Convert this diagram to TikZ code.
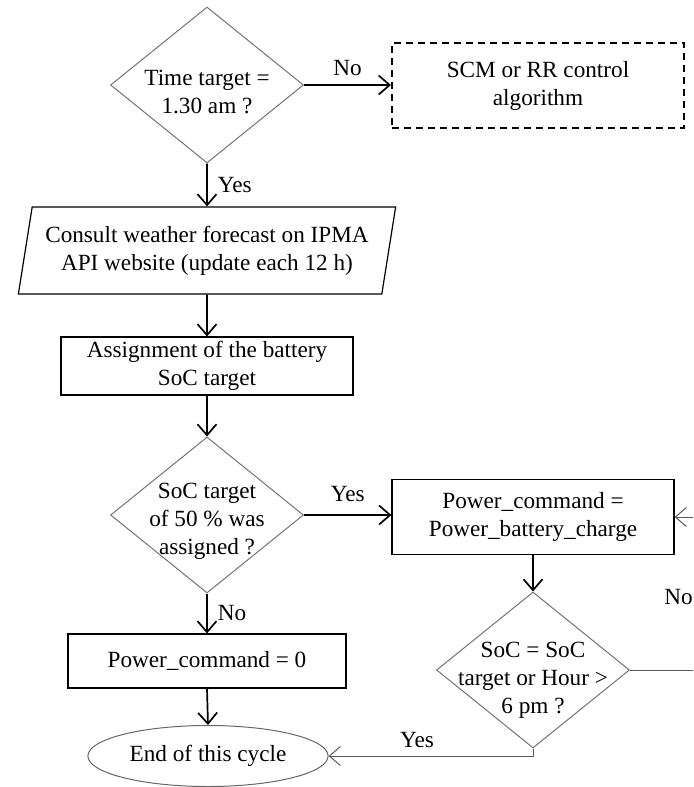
\documentclass[tikz,border=0pt]{standalone}
\usepackage{fontspec}
\setmainfont{Liberation Serif}
\usetikzlibrary{positioning,arrows.meta,shapes.geometric}

\begin{document}
\begin{tikzpicture}[x=0.5pt, y=-0.5pt, font=\fontsize{11.6}{14}\selectfont,
  test/.style={diamond, draw=black!55, line width=0.5pt, minimum width=96.5pt, minimum height=78pt, inner sep=0pt},
  qtext/.style={align=center, inner sep=0pt},
  task/.style={draw, line width=0.6pt, align=center, inner sep=2pt},
  io/.style={trapezium, trapezium left angle=78, trapezium right angle=102, trapezium stretches=true,
    draw, line width=0.6pt, align=center, minimum width=189pt, minimum height=43.5pt},
  ext/.style={draw, dash pattern=on 3.5pt off 2.5pt, line width=1pt, align=center},
  stop/.style={ellipse, draw=black!60, line width=0.5pt, minimum width=106.5pt, minimum height=30.5pt},
  arr/.style={-{Straight Barb[length=5.5pt, width=9.5pt]}, line width=0.85pt},
  thinarr/.style={-{Straight Barb[length=5.5pt, width=9.5pt]}, draw=black!65, line width=0.5pt},
  lbl/.style={inner sep=1pt}]
\useasboundingbox (0,0) rectangle (693,787);
\clip (0,0) rectangle (693,787);
% decisions
\node[test] (q1) at (207,85)  {};
\node[qtext] (q1t) at (207,92) {Time target =\\1.30 am ?};
\node[test] (q2) at (207,515) {};
\node[qtext] (q2t) at (207,521) {SoC target\\of 50 \% was\\assigned ?};
\node[test] (q3) at (533,670) {};
\node[qtext] (q3t) at (533,680) {SoC = SoC\\target or Hour >\\6 pm ?};
% processes
\node[ext, minimum width=146pt, minimum height=42.5pt] (algo) at (538,85.5) {SCM or RR control\\algorithm};
\node[io] (meteo) at (207,250.5) {Consult weather forecast on IPMA\\API website (update each 12 h)};
\node[task, minimum width=146pt, minimum height=29pt] (soc) at (207,366) {Assignment of the battery\\SoC target};
\node[task, minimum width=141pt, minimum height=37.5pt] (charge) at (533,517) {Power\_command =\\Power\_battery\_charge};
\node[task, minimum width=139pt, minimum height=27pt] (idle) at (207,661) {Power\_command = 0};
\node[stop] (end) at (208,756) {End of this cycle};
% connectors
\draw[arr] (q1.east) -- (q1.east -| algo.west) node[lbl, midway, above=3pt] (n1) {No};
\draw[arr] (q1.south) -- (meteo.north) node[lbl, midway, right=4pt] (y1) {Yes};
\draw[arr] (meteo.south) -- (soc.north);
\draw[arr] (soc.south) -- (q2.north);
\draw[arr] (q2.east) -- (q2.east -| charge.west) node[lbl, midway, above=5pt] (y2) {Yes};
\draw[arr] (q2.south) -- (idle.north) node[lbl, midway, right=4pt] (n2) {No};
\draw[arr] (idle.south) -- (end.north);
\draw[arr] (charge.south) -- (q3.north);
\draw[thinarr] (q3.south) |- (end.east);
\node[lbl] (y3) at (417,740) {Yes};
% loop back when the target is not reached
\coordinate (back) at (712,670);
\draw[thinarr] (q3.east) -- (back) |- (charge.east);
\node[lbl, anchor=west] (n3) at (662,597) {No};
\end{tikzpicture}
\end{document}
